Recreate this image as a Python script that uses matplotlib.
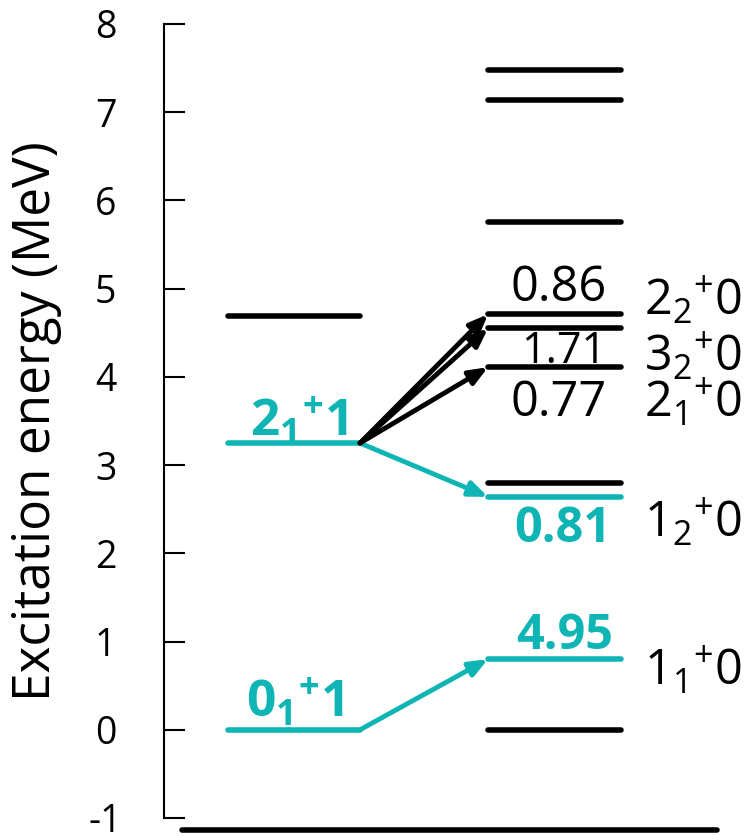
import matplotlib.pyplot as plt

plt.rcParams['font.family'] = ['Open Sans', 'DejaVu Sans']
plt.rcParams['mathtext.fontset'] = 'custom'
plt.rcParams['mathtext.rm'] = 'Open Sans'
plt.rcParams['mathtext.it'] = 'Open Sans'
plt.rcParams['mathtext.bf'] = 'Open Sans:bold'
plt.rcParams['axes.unicode_minus'] = False

TEAL = '#0fb4b4'

# levels (MeV)
left_levels = [0.0, 3.25, 4.69]
left_teal = [True, True, False]
right_levels = [0.0, 0.80, 2.64, 2.80, 4.11, 4.55, 4.71, 5.76, 7.14, 7.48]
right_teal = [False, True, True, False, False, False, False, False, False, False]

# transitions: start level, end level, strength
trans_start = [0.0, 3.25, 3.25, 3.25, 3.25]
trans_end = [0.80, 2.64, 4.11, 4.55, 4.71]
trans_label = ['4.95', '0.81', '0.77', '1.71', '0.86']
trans_teal = [True, True, False, False, False]

# state labels
left_names = [r'$\mathbf{0_1{}^{+}1}$', r'$\mathbf{2_1{}^{+}1}$']
right_names = [r'$2_2{}^{+}0$', r'$3_2{}^{+}0$', r'$2_1{}^{+}0$',
               r'$1_2{}^{+}0$', r'$1_1{}^{+}0$']

W, H = 748, 836
fig = plt.figure(figsize=(W / 100, H / 100), dpi=100)
ax = fig.add_axes([164 / W, (H - 818) / H, (W - 164) / W, (818 - 24) / H])
ax.set_xlim(164, W)
ax.set_ylim(-1, 8)

# x extents of the two columns (pixels)
L0, L1 = 228, 360
R0, R1 = 488, 621

for e, t in zip(left_levels, left_teal):
    ax.plot([L0, L1], [e, e], color=TEAL if t else 'black', lw=4,
            solid_capstyle='round', zorder=3)
for e, t in zip(right_levels, right_teal):
    ax.plot([R0, R1], [e, e], color=TEAL if t else 'black', lw=4,
            solid_capstyle='round', zorder=3)

for s, e, t in zip(trans_start, trans_end, trans_teal):
    ax.annotate('', xy=(R0, e), xytext=(L1, s),
                arrowprops=dict(arrowstyle='-|>,head_length=1.1,head_width=0.45',
                                color=TEAL if t else 'black', lw=3.5,
                                shrinkA=0, shrinkB=0), zorder=4)

# strength labels
lab_pos = {'4.95': (613, 1.06), '0.81': (611, 2.27), '0.77': (607, 3.70),
           '1.71': (606, 4.28), '0.86': (607, 5.00)}
for lab, t in zip(trans_label, trans_teal):
    x, y = lab_pos[lab]
    ax.text(x, y, lab, ha='right', va='center',
            fontsize=31 if lab == '1.71' else 35,
            fontweight='bold' if t else 'normal',
            color=TEAL if t else 'black')

# left state labels
ax.text(246, 0.31, left_names[0], ha='left', va='center', fontsize=37, color=TEAL)
ax.text(250, 3.49, left_names[1], ha='left', va='center', fontsize=37, color=TEAL)

# right state labels
right_y = [4.86, 4.23, 3.70, 2.35, 0.67]
for name, y in zip(right_names, right_y):
    ax.text(644, y, name, ha='left', va='center', fontsize=35)

ax.set_yticks(range(-1, 9))
ax.set_xticks([])
ax.tick_params(axis='y', direction='in', length=15, width=1.5, labelsize=27, pad=42)
for lab in ax.get_yticklabels():
    lab.set_horizontalalignment('center')
for sp in ['top', 'right', 'bottom']:
    ax.spines[sp].set_visible(False)
ax.spines['left'].set_linewidth(1.5)
ax.set_ylabel('Excitation energy (MeV)', fontsize=37)
ax.yaxis.set_label_coords(-0.175, 0.5)

# baseline bar below the axis
ax.plot([182, 717], [-1.14, -1.14], color='black', lw=4, clip_on=False,
        solid_capstyle='round')

fig.savefig('out.png', dpi=100)
